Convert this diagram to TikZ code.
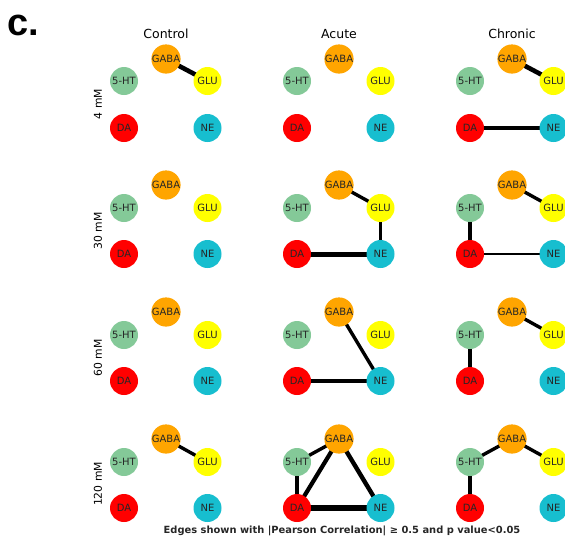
\documentclass[tikz,border=0pt]{standalone}
\usepackage{fontspec}
\setmainfont{DejaVu Sans}
\newfontfamily\arialf{Liberation Sans}
\usetikzlibrary{backgrounds}
\definecolor{cgaba}{HTML}{FFA500}
\definecolor{cht}{HTML}{84C998}
\definecolor{cglu}{HTML}{FFFF00}
\definecolor{cda}{HTML}{FF0000}
\definecolor{cne}{HTML}{17BECF}
\tikzset{
  nt/.style={circle, minimum size=28pt, inner sep=0pt, font=\fontsize{10}{10}\selectfont, text=black!85},
  edg/.style={draw=black, line width=#1pt},
  ttl/.style={font=\fontsize{12.5}{14}\selectfont},
  rowlab/.style={rotate=90, font=\fontsize{10.8}{12}\selectfont},
}
\newcommand\mypanel[4]{%
  \node[nt, fill=cgaba] (#1g) at (#2,#3) {GABA};
  \node[nt, fill=cht]  (#1h) at (#2-42,#3+#4) {5-HT};
  \node[nt, fill=cglu] (#1l) at (#2+41.5,#3+#4) {GLU};
  \node[nt, fill=cda]  (#1d) at (#2-42,#3+69) {DA};
  \node[nt, fill=cne]  (#1n) at (#2+41.5,#3+69) {NE};
}
\begin{document}
\begin{tikzpicture}[x=1pt,y=-1pt]
\useasboundingbox (0,0) rectangle (565,542);
\node[anchor=base west, inner sep=0pt, font=\arialf\bfseries\fontsize{38}{40}\selectfont] (lbl) at (7,35) {c.};
\node[ttl] (t1) at (166,34) {Control};
\node[ttl] (t2) at (339,34) {Acute};
\node[ttl] (t3) at (512,34) {Chronic};
\node[rowlab] (r1) at (98,104) {4 mM};
\node[rowlab] (r2) at (98,231) {30 mM};
\node[rowlab] (r3) at (98,358) {60 mM};
\node[rowlab] (r4) at (98,484) {120 mM};
% row 1
\mypanel{a1}{166}{59}{22}
\mypanel{b1}{339}{59}{22}
\mypanel{c1}{512}{59}{22}
% row 2
\mypanel{a2}{166}{185}{23}
\mypanel{b2}{339}{185}{23}
\mypanel{c2}{512}{185}{23}
% row 3
\mypanel{a3}{166}{312}{23}
\mypanel{b3}{339}{312}{23}
\mypanel{c3}{512}{312}{23}
% row 4
\mypanel{a4}{166}{439}{23}
\mypanel{b4}{339}{439}{23}
\mypanel{c4}{512}{439}{23}
\begin{pgfonlayer}{background}
% row 1
\draw[edg=4.6] (a1g.center) -- (a1l.center);
\draw[edg=4.6] (c1g.center) -- (c1l.center);
\draw[edg=4.4] (c1d.center) -- (c1n.center);
% row 2
\draw[edg=3.4] (b2g.center) -- (b2l.center);
\draw[edg=3] (b2l.center) -- (b2n.center);
\draw[edg=5] (b2d.center) -- (b2n.center);
\draw[edg=3.4] (c2g.center) -- (c2l.center);
\draw[edg=3.4] (c2h.center) -- (c2d.center);
\draw[edg=2.6] (c2d.center) -- (c2n.center);
% row 3
\draw[edg=3.4] (b3g.center) -- (b3n.center);
\draw[edg=3.4] (b3d.center) -- (b3n.center);
\draw[edg=3.4] (c3g.center) -- (c3l.center);
\draw[edg=4.2] (c3h.center) -- (c3d.center);
% row 4
\draw[edg=3.4] (a4g.center) -- (a4l.center);
\draw[edg=3.4] (b4h.center) -- (b4g.center);
\draw[edg=3.4] (b4h.center) -- (b4d.center);
\draw[edg=4.2] (b4g.center) -- (b4d.center);
\draw[edg=4.4] (b4g.center) -- (b4n.center);
\draw[edg=5.2] (b4d.center) -- (b4n.center);
\draw[edg=3.4] (c4h.center) -- (c4g.center);
\draw[edg=3.4] (c4g.center) -- (c4l.center);
\draw[edg=3.4] (c4h.center) -- (c4d.center);
\end{pgfonlayer}
\node[font=\bfseries\fontsize{9.9}{11}\selectfont, text=black!85] (foot) at (342,531) {Edges shown with |Pearson Correlation| ≥ 0.5 and p value<0.05};
\end{tikzpicture}
\end{document}
